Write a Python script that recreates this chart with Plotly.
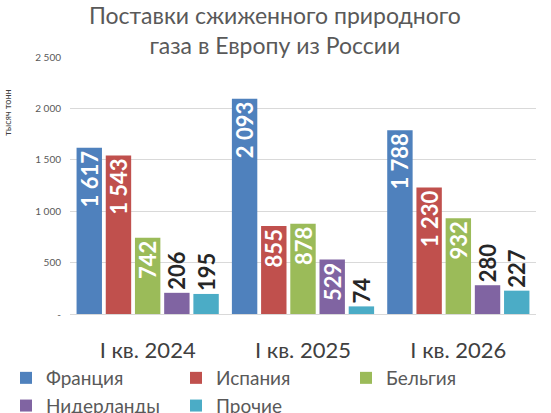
import plotly.graph_objects as go

categories = ["I кв. 2024", "I кв. 2025", "I кв. 2026"]
series_names = ["Франция", "Испания", "Бельгия", "Нидерланды", "Прочие"]
france = [1617, 2093, 1788]
spain = [1543, 855, 1230]
belgium = [742, 878, 932]
netherlands = [206, 529, 280]
others = [195, 74, 227]
y_ticks = [0, 500, 1000, 1500, 2000, 2500]
y_tick_labels = ["-", "500", "1 000", "1 500", "2 000", "2 500"]

colors = ["#4F81BD", "#C0504D", "#9BBB59", "#8064A2", "#4BACC6"]
series = [france, spain, belgium, netherlands, others]

FONT = "Lato"

def fmt(v):
    return f"{v:,}".replace(",", " ")

fig = go.Figure()
for name, vals, col in zip(series_names, series, colors):
    inside = [v >= 450 for v in vals]
    fig.add_trace(go.Bar(
        name=name, x=categories, y=vals,
        marker=dict(color=col, line=dict(width=0)),
        text=[f"<b>{fmt(v)}</b>" for v in vals],
        textposition=["inside" if i else "outside" for i in inside],
        insidetextanchor="end",
        textangle=-90,
        constraintext="none",
        textfont=dict(family=FONT, size=22,
                      color=["white" if i else "#262626" for i in inside]),
        cliponaxis=False,
    ))

fig.update_layout(
    width=551, height=413,
    margin=dict(l=70, r=15, t=57, b=99, autoexpand=False),
    paper_bgcolor="white", plot_bgcolor="white",
    barmode="group", bargap=0.06, bargroupgap=0.13,
    font=dict(family=FONT, color="#595959"),
    legend=dict(orientation="h", xref="paper", yref="paper",
                x=(6 - 70) / 466, y=(314 - 359) / 257, xanchor="left", yanchor="top",
                entrywidth=125, entrywidthmode="pixels",
                bgcolor="rgba(0,0,0,0)",
                font=dict(family=FONT, size=19, color="#595959"),
                itemwidth=30, tracegroupgap=0, traceorder="normal"),
    showlegend=True,
)
fig.update_xaxes(showgrid=False, showline=False, ticks="outside", ticklen=17,
                 tickcolor="rgba(0,0,0,0)",
                 tickfont=dict(family=FONT, size=22, color="#404040"))
fig.update_yaxes(range=[0, 2500], tickvals=y_ticks, ticktext=y_tick_labels,
                 showgrid=True, gridcolor="#D9D9D9", gridwidth=1,
                 zeroline=True, zerolinecolor="#D9D9D9", zerolinewidth=1,
                 tickfont=dict(family=FONT, size=10, color="#595959"),
                 ticks="outside", ticklen=6, tickcolor="rgba(0,0,0,0)")
fig.add_annotation(text="Поставки сжиженного природного<br>газа в Европу из России",
                   xref="paper", yref="paper", x=(275 - 70) / 466, y=(314 - 30) / 257,
                   xanchor="center", yanchor="middle", showarrow=False,
                   font=dict(family=FONT, size=23, color="#595959"))
fig.add_annotation(text="тысяч тонн", xref="paper", yref="paper",
                   x=-0.152, y=0.879, textangle=-90, showarrow=False,
                   font=dict(family=FONT, size=9, color="#404040"))

fig.write_html("out.html")
